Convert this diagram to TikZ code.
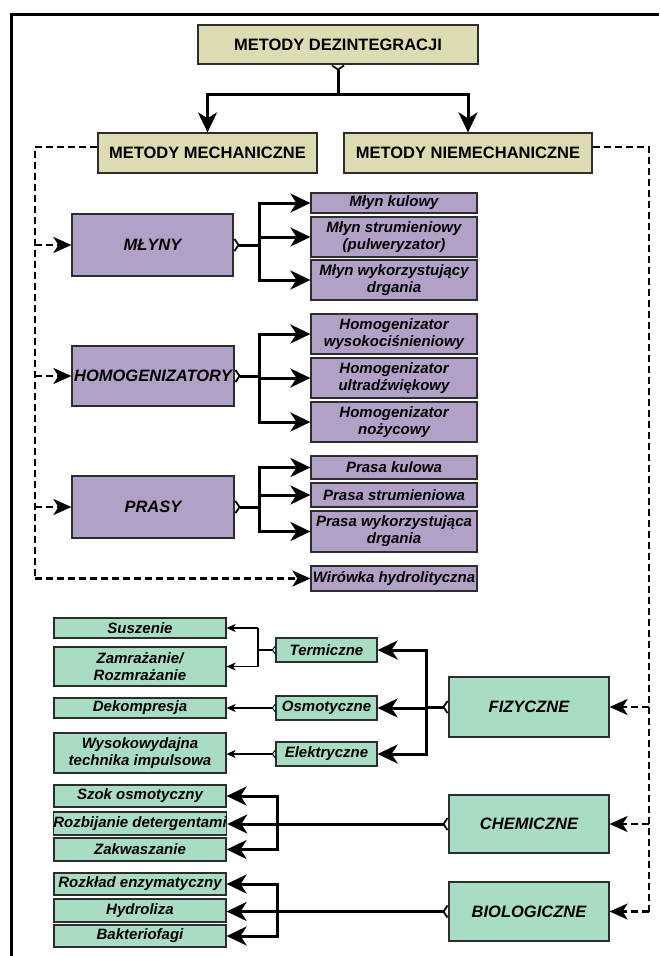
\documentclass[tikz,border=0pt]{standalone}
\usepackage{fontspec}
\setmainfont{Liberation Sans}
\usetikzlibrary{arrows.meta}

\definecolor{khaki}{RGB}{221,219,178}
\definecolor{lav}{RGB}{178,161,199}
\definecolor{mint}{RGB}{168,221,196}
\definecolor{edge}{RGB}{45,45,45}

% box given by its corners (x1,y1) and (x2,y2)
\newcommand\boxat[7]{%
  \pgfmathsetmacro\bxw{#5-#3}\pgfmathsetmacro\bxh{#6-#4}%
  \pgfmathsetmacro\bxx{(#3+#5)/2}\pgfmathsetmacro\bxy{(#4+#6)/2}%
  \node[#2, minimum width=\bxw pt, minimum height=\bxh pt] (#1) at (\bxx,\bxy) {#7};}

\begin{document}
\begin{tikzpicture}[x=1pt,y=-1pt,
  basebox/.style={draw=edge, line width=1.2pt, inner sep=0pt, align=center},
  hdr/.style={basebox, fill=khaki, font=\fontsize{16.5}{19}\selectfont\bfseries},
  grp/.style={basebox, fill=lav, font=\fontsize{16.5}{19}\selectfont\bfseries\itshape},
  itm/.style={basebox, fill=lav, font=\fontsize{15}{17}\selectfont\bfseries\itshape},
  ggrp/.style={basebox, fill=mint, font=\fontsize{16.5}{19}\selectfont\bfseries\itshape},
  gitm/.style={basebox, fill=mint, font=\fontsize{15}{17}\selectfont\bfseries\itshape},
  bigtip/.tip={Stealth[length=20pt,width=19pt,inset=6pt]},
  marktip/.tip={Straight Barb[reversed,length=4pt,width=12pt,line width=1.8pt]},
  smalltip/.tip={Stealth[length=9pt,width=8pt,inset=2.5pt]},
  smallmark/.tip={Straight Barb[reversed,length=2.5pt,width=7pt,line width=1pt]},
  dashtip/.tip={Stealth[length=18pt,width=16pt,inset=5pt]},
  link/.style={line width=3pt},
  mainarrow/.style={link, arrows={-bigtip}},
  markline/.style={link, arrows={marktip-}},
  markarrow/.style={link, arrows={marktip-bigtip}},
  dashline/.style={line width=2.6pt, dash pattern=on 7pt off 4pt},
  dasharrow/.style={dashline, arrows={-dashtip}},
  thinline/.style={line width=1.1pt},
  thinarrow/.style={thinline, arrows={-smalltip}},
  thinmarkline/.style={thinline, arrows={smallmark-}},
  thinmarkarrow/.style={thinline, arrows={smallmark-smalltip}}
]
\useasboundingbox (0,0) rectangle (659,956);

% outer frame (top and left sides)
\draw[line width=3.5pt] (11.5,956) -- (11.5,14.5) -- (659,14.5);

% headers
\boxat{top}{hdr}{198}{25}{478}{64}{METODY DEZINTEGRACJI}
\boxat{mech}{hdr}{98}{133}{317}{173}{METODY MECHANICZNE}
\boxat{niem}{hdr}{344}{133}{592}{173}{METODY NIEMECHANICZNE}

% mechanical methods
\boxat{mly}{grp}{72}{214}{233}{276}{MŁYNY}
\boxat{hom}{grp}{72}{346}{234}{406}{HOMOGENIZATORY}
\boxat{pra}{grp}{72}{476}{234}{538}{PRASY}

\boxat{m1}{itm}{311}{193}{477}{213}{Młyn kulowy}
\boxat{m2}{itm}{311}{217}{477}{257}{Młyn strumieniowy\\(pulweryzator)}
\boxat{m3}{itm}{311}{260}{477}{300}{Młyn wykorzystujący\\drgania}
\boxat{h1}{itm}{311}{314}{477}{354}{Homogenizator\\wysokociśnieniowy}
\boxat{h2}{itm}{311}{358}{477}{398}{Homogenizator\\ultradźwiękowy}
\boxat{h3}{itm}{311}{402}{477}{442}{Homogenizator\\nożycowy}
\boxat{p1}{itm}{311}{456}{477}{479}{Prasa kulowa}
\boxat{p2}{itm}{311}{483}{477}{507}{Prasa strumieniowa}
\boxat{p3}{itm}{311}{511}{477}{552}{Prasa wykorzystująca\\drgania}
\boxat{wir}{itm}{311}{566}{477}{591}{Wirówka hydrolityczna}

% non-mechanical methods
\boxat{su}{gitm}{54}{618}{226}{638}{Suszenie}
\boxat{za}{gitm}{54}{647}{226}{686}{Zamrażanie/\\Rozmrażanie}
\boxat{de}{gitm}{54}{698}{226}{718}{Dekompresja}
\boxat{wy}{gitm}{54}{733}{226}{773}{Wysokowydajna\\technika impulsowa}
\boxat{te}{gitm}{276}{638}{377}{662}{Termiczne}
\boxat{os}{gitm}{276}{696}{377}{720}{Osmotyczne}
\boxat{el}{gitm}{276}{742}{377}{766}{Elektryczne}
\boxat{fiz}{ggrp}{449}{677}{609}{737}{FIZYCZNE}

\boxat{sz}{gitm}{54}{785}{226}{807}{Szok osmotyczny}
\boxat{ro}{gitm}{54}{812}{226}{835}{Rozbijanie detergentami}
\boxat{zk}{gitm}{54}{838}{226}{861}{Zakwaszanie}
\boxat{che}{ggrp}{449}{795}{609}{853}{CHEMICZNE}

\boxat{rz}{gitm}{54}{873}{226}{895}{Rozkład enzymatyczny}
\boxat{hy}{gitm}{54}{899}{226}{922}{Hydroliza}
\boxat{ba}{gitm}{54}{925}{226}{947}{Bakteriofagi}
\boxat{bio}{ggrp}{449}{882}{609}{941}{BIOLOGICZNE}

% junction points
\coordinate (tj) at (340,94);
\coordinate (mj) at (259,245);
\coordinate (hj) at (259,376);
\coordinate (pj) at (259,507);
\coordinate (dl) at (35,147);
\coordinate (dr) at (649,147);
\coordinate (ej) at (258,650);
\coordinate (fj) at (426,707);
\coordinate (cj) at (277,824);
\coordinate (bj) at (277,911);

% top split
\draw[markline] (top.south) -- (top.south |- tj);
\draw[link,line cap=rect] (mech.north |- tj) -- (niem.north |- tj);
\draw[mainarrow] (mech.north |- tj) -- (mech.north);
\draw[mainarrow] (niem.north |- tj) -- (niem.north);

% mechanical: dashed feed line
\draw[dashline] (mech.west |- dl) -- (dl) -- (dl |- wir.west);
\draw[dasharrow] (dl |- wir.west) -- (wir.west);
\draw[dasharrow] (dl |- mly.west) -- (mly.west);
\draw[dasharrow] (dl |- hom.west) -- (hom.west);
\draw[dasharrow] (dl |- pra.west) -- (pra.west);

% mills
\draw[markline] (mly.east) -- (mj);
\draw[link,line cap=rect] (mj |- m1.west) -- (mj |- m3.west);
\draw[mainarrow] (mj |- m1.west) -- (m1.west);
\draw[mainarrow] (mj |- m2.west) -- (m2.west);
\draw[mainarrow] (mj |- m3.west) -- (m3.west);

% homogenizers
\draw[markline] (hom.east) -- (hj);
\draw[link,line cap=rect] (hj |- h1.west) -- (hj |- h3.west);
\draw[mainarrow] (hj |- h1.west) -- (h1.west);
\draw[mainarrow] (hj |- h2.west) -- (h2.west);
\draw[mainarrow] (hj |- h3.west) -- (h3.west);

% presses
\draw[markline] (pra.east) -- (pj);
\draw[link,line cap=rect] (pj |- p1.west) -- (pj |- p3.west);
\draw[mainarrow] (pj |- p1.west) -- (p1.west);
\draw[mainarrow] (pj |- p2.west) -- (p2.west);
\draw[mainarrow] (pj |- p3.west) -- (p3.west);

% non-mechanical: dashed feed line
\draw[dashline] (niem.east |- dr) -- (dr) -- (dr |- bio.east);
\draw[dasharrow] (dr |- fiz.east) -- (fiz.east);
\draw[dasharrow] (dr |- che.east) -- (che.east);
\draw[dasharrow] (dr |- bio.east) -- (bio.east);

% physical
\draw[markline] (fiz.west) -- (fiz.west -| fj);
\draw[link,line cap=rect] (fj |- te.east) -- (fj |- el.east);
\draw[mainarrow] (fj |- te.east) -- (te.east);
\draw[mainarrow] (fj |- os.east) -- (os.east);
\draw[mainarrow] (fj |- el.east) -- (el.east);

\draw[thinmarkline] (te.west) -- (ej);
\draw[thinline] (ej |- su.east) -- (ej |- za.east);
\draw[thinarrow] (ej |- su.east) -- (su.east);
\draw[thinarrow] (ej |- za.east) -- (za.east);
\draw[thinmarkarrow] (os.west) -- (os.west -| de.east);
\draw[thinmarkarrow] (el.west) -- (el.west -| wy.east);

% chemical
\draw[markarrow] (che.west) -- (che.west -| ro.east);
\draw[link,line cap=rect] (cj |- sz.east) -- (cj |- zk.east);
\draw[mainarrow] (cj |- sz.east) -- (sz.east);
\draw[mainarrow] (cj |- zk.east) -- (zk.east);

% biological
\draw[markarrow] (bio.west) -- (bio.west -| hy.east);
\draw[link,line cap=rect] (bj |- rz.east) -- (bj |- ba.east);
\draw[mainarrow] (bj |- rz.east) -- (rz.east);
\draw[mainarrow] (bj |- ba.east) -- (ba.east);
\end{tikzpicture}
\end{document}
